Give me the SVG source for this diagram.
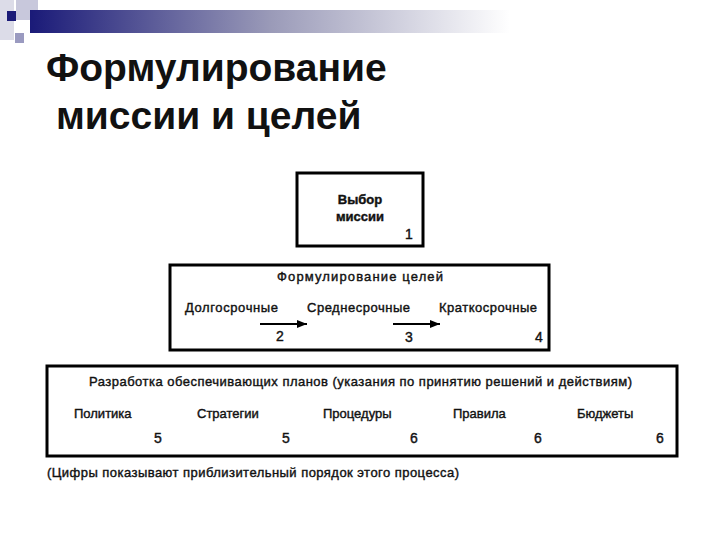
<svg xmlns="http://www.w3.org/2000/svg" width="720" height="540" viewBox="0 0 720 540">
<defs>
<linearGradient id="g" x1="0" x2="1" y1="0" y2="0"><stop offset="0" stop-color="#1a1a78"/><stop offset="0.5" stop-color="#9a9ab8"/><stop offset="1" stop-color="#ffffff"/></linearGradient>
<marker id="a" viewBox="0 0 10 10" refX="10" refY="5" markerWidth="5" markerHeight="5" orient="auto"><path d="M0,1 L10,5 L0,9 z" fill="#000"/></marker>
<style>
.b{fill:#fff;stroke:#000;stroke-width:3}
.t{font-family:"Liberation Sans",Arial,sans-serif;font-size:13px;fill:#111;stroke:#111;stroke-width:0.4}
.n{font-family:"Liberation Sans",Arial,sans-serif;font-size:14px;fill:#111;stroke:#111;stroke-width:0.4}
.h{font-family:"Liberation Sans",Arial,sans-serif;font-size:39px;font-weight:bold;fill:#111}
</style>
</defs>
<rect width="720" height="540" fill="#fff"/>
<g id="header">
<rect x="0" y="0" width="14" height="40" fill="#dcdce8"/>
<rect x="16" y="0" width="22" height="20" fill="#c8c8dc"/>
<rect x="15" y="33" width="9" height="10" fill="#9a9ac0"/>
<rect x="30" y="10" width="480" height="23" fill="url(#g)"/>
<rect x="7" y="11" width="9" height="10" fill="#1a1a78"/>
</g>
<text class="h" x="46" y="81">Формулирование</text>
<text class="h" x="56" y="129">миссии и целей</text>
<g id="n1"><rect class="b" x="297" y="173" width="126" height="73"/>
<text class="t" x="360" y="204" text-anchor="middle" font-weight="bold" font-size="12">Выбор</text>
<text class="t" x="360" y="221" text-anchor="middle" font-weight="bold" font-size="12">миссии</text>
<text class="n" x="405" y="239">1</text></g>
<g id="n2"><rect class="b" x="170" y="265" width="379" height="85"/>
<text class="t" x="277" y="281" textLength="166">Формулирование целей</text>
<text class="t" x="185" y="312" textLength="93">Долгосрочные</text>
<text class="t" x="307" y="312" textLength="103">Среднесрочные</text>
<text class="t" x="439" y="312" textLength="98">Краткосрочные</text>
<text class="n" x="276" y="341">2</text>
<text class="n" x="405" y="342">3</text>
<text class="n" x="535" y="342">4</text></g>
<g id="n3"><rect class="b" x="47" y="366" width="630" height="90"/>
<text class="t" x="89" y="386" textLength="543">Разработка обеспечивающих планов (указания по принятию решений и действиям)</text>
<text class="t" x="74" y="418">Политика</text>
<text class="t" x="197" y="418">Стратегии</text>
<text class="t" x="323" y="418">Процедуры</text>
<text class="t" x="453" y="418">Правила</text>
<text class="t" x="577" y="418">Бюджеты</text>
<text class="n" x="154" y="443">5</text>
<text class="n" x="282" y="443">5</text>
<text class="n" x="410" y="443">6</text>
<text class="n" x="534" y="443">6</text>
<text class="n" x="656" y="443">6</text></g>
<g id="connectors" stroke="#000" stroke-width="2">
<line x1="260" y1="324" x2="307" y2="324" marker-end="url(#a)"/>
<line x1="393" y1="324" x2="440" y2="324" marker-end="url(#a)"/>
</g>
<text class="t" x="47" y="477" textLength="412">(Цифры показывают приблизительный порядок этого процесса)</text>
</svg>
